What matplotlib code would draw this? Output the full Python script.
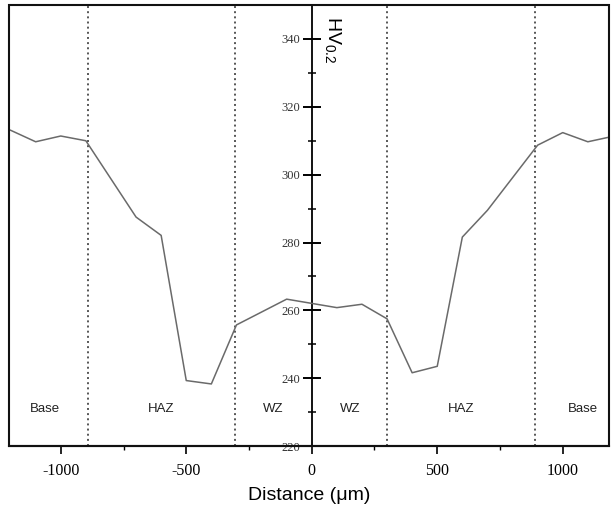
"""
Microhardness profile across the weld (HV0.2 vs distance).
"""

import matplotlib.pyplot as plt
from matplotlib.patches import Rectangle
from matplotlib.ticker import MultipleLocator

plt.rcParams["mathtext.default"] = "regular"

# ─── data ────────────────────────────────────────────────────────────────────
distance = [-1200, -1100, -1000, -900, -700, -600, -500, -400, -300, -100,
            100, 200, 300, 400, 500, 600, 700, 900, 1000, 1100, 1200]
hardness = [313.1, 309.7, 311.4, 310.0, 287.5, 282.1, 239.3, 238.3, 255.7, 263.3,
            260.8, 261.8, 257.5, 241.6, 243.5, 281.6, 289.5, 308.7, 312.4, 309.7, 311.3]

zone_bounds = [-890, -305, 300, 890]
zone_names = ["Base", "HAZ", "WZ", "WZ", "HAZ", "Base"]
zone_centres = [-1065, -600, -155, 155, 595, 1080]
zone_label_y = 231

x_ticks = [-1000, -500, 0, 500, 1000]
y_ticks = [220, 240, 260, 280, 300, 320, 340]

SERIF = "Liberation Serif"
SANS = "Liberation Sans"

fig = plt.figure(figsize=(6.11, 5.08), dpi=100)
ax = fig.add_axes([0.014, 0.122, 0.983, 0.868])

ax.plot(distance, hardness, color="#6a6a6a", lw=1.1, zorder=3)

for xb in zone_bounds:
    ax.axvline(xb, color="#555555", ls=":", lw=1.4, zorder=2)

for xc, name in zip(zone_centres, zone_names):
    ax.text(xc, zone_label_y, name, ha="center", va="center",
            fontsize=9.5, family=SANS, color="#222222")

ax.set_xlim(-1208, 1185)
ax.set_ylim(220, 350)

# centre y-axis through x = 0, frame drawn separately
for side in ["right", "top"]:
    ax.spines[side].set_visible(False)
ax.spines["left"].set_position(("data", 0))
ax.spines["left"].set_linewidth(1.3)
ax.spines["bottom"].set_linewidth(1.5)
ax.add_patch(Rectangle((0, 0), 1, 1, transform=ax.transAxes, fill=False,
                       lw=1.5, edgecolor="#111111", zorder=5, clip_on=False))

ax.set_xticks(x_ticks)
ax.set_xticklabels([str(v) for v in x_ticks], family=SERIF, fontsize=11.5)
ax.xaxis.set_minor_locator(MultipleLocator(250))
ax.tick_params(axis="x", which="major", direction="out", length=6, width=1.2, pad=6)
ax.tick_params(axis="x", which="minor", direction="out", length=3, width=1.0)

ax.set_yticks(y_ticks)
ax.set_yticklabels([str(v) for v in y_ticks], family=SERIF, fontsize=9,
                   color="#333333")
ax.yaxis.set_minor_locator(MultipleLocator(10))
ax.tick_params(axis="y", which="major", direction="inout", length=13, width=1.4, pad=2)
ax.tick_params(axis="y", which="minor", direction="inout", length=6, width=1.1)

ax.set_xlabel("Distance (\u03bcm)", family=SANS, fontsize=14, labelpad=6)

ax.text(0.523, 0.975, "HV$_{0.2}$", transform=ax.transAxes, rotation=-90,
        ha="left", va="top", fontsize=14, family=SANS)

fig.savefig("out.png", dpi=100)
